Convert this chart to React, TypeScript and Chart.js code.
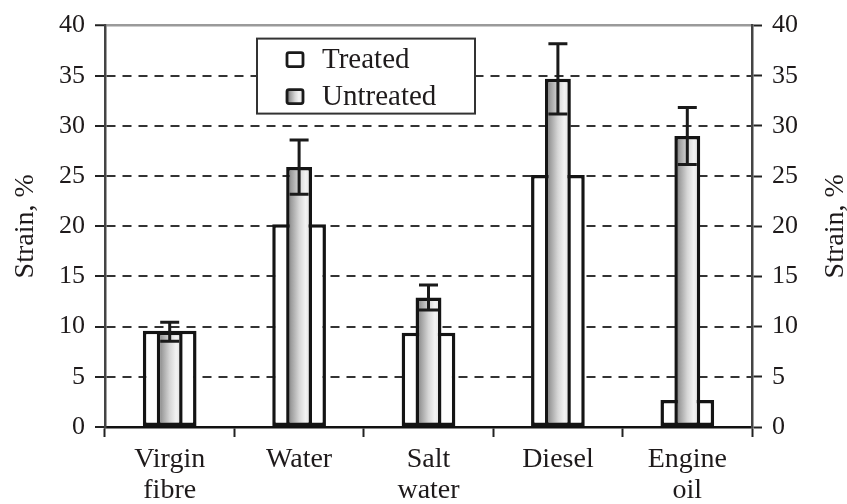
import React, { useEffect, useRef } from "react";
import { Chart, registerables } from "chart.js";

Chart.register(...registerables);

// ---- data ----
const categories: string[][] = [["Virgin", "fibre"], ["Water"], ["Salt", "water"], ["Diesel"], ["Engine", "oil"]];
const seriesLabels = ["Treated", "Untreated"];
const treatedValues = [9.6, 20.2, 9.4, 25.1, 2.7];
const untreatedValues = [9.5, 25.9, 12.9, 34.7, 29.0];
const untreatedErrors = [0.95, 2.7, 1.25, 3.5, 2.85];
const yMin = 0;
const yMax = 40;
const yStep = 5;
const axisTitle = "Strain, %";

// ---- style ----
const FONT = '"Liberation Serif", "Times New Roman", serif';
const TEXT = "#1e1a1b";
const TREATED_PCT = 0.415;
const UNTREATED_PCT = 0.2;

function barGradient(ctx: CanvasRenderingContext2D, x0: number, x1: number) {
  if (!isFinite(x0) || !isFinite(x1) || x1 <= x0) return "#cccccc";
  const g = ctx.createLinearGradient(x0, 0, x1, 0);
  g.addColorStop(0, "#666666");
  g.addColorStop(0.2, "#9e9e9e");
  g.addColorStop(0.5, "#d6d6d6");
  g.addColorStop(0.75, "#f3f3f3");
  g.addColorStop(1, "#dcdcdc");
  return g;
}

const decorPlugin = {
  id: "decor",
  afterDatasetsDraw(chart: any) {
    const { ctx } = chart;
    const y = chart.scales.y;
    const meta = chart.getDatasetMeta(1);
    ctx.save();
    ctx.strokeStyle = "#1a1a1a";
    ctx.lineWidth = 3;
    ctx.lineCap = "butt";
    meta.data.forEach((bar: any, i: number) => {
      const v = untreatedValues[i];
      const e = untreatedErrors[i];
      const x = bar.x;
      const yt = y.getPixelForValue(v + e);
      const yb = y.getPixelForValue(v - e);
      const cap = 9.5;
      ctx.beginPath();
      ctx.moveTo(x, yt);
      ctx.lineTo(x, yb);
      ctx.moveTo(x - cap, yt);
      ctx.lineTo(x + cap, yt);
      ctx.moveTo(x - cap, yb);
      ctx.lineTo(x + cap, yb);
      ctx.stroke();
    });
    ctx.restore();
  },
  afterDraw(chart: any) {
    const { ctx, chartArea } = chart;
    const cy = (chartArea.top + chartArea.bottom) / 2;
    ctx.save();
    // axis titles (both read bottom-to-top)
    ctx.fillStyle = TEXT;
    ctx.font = `28px ${FONT}`;
    ctx.textAlign = "center";
    ctx.textBaseline = "alphabetic";
    [33, chart.width - 4].forEach((bx) => {
      ctx.save();
      ctx.translate(bx, cy);
      ctx.rotate(-Math.PI / 2);
      ctx.fillText(axisTitle, 0, 0);
      ctx.restore();
    });

    // legend box
    const lx = chartArea.left + 152;
    const ly = chartArea.top + 13;
    const lw = 218;
    const lh = 75;
    ctx.fillStyle = "#ffffff";
    ctx.fillRect(lx, ly, lw, lh);
    ctx.strokeStyle = "#333333";
    ctx.lineWidth = 2;
    ctx.strokeRect(lx, ly, lw, lh);

    const rows = [ly + 21, ly + 58];
    seriesLabels.forEach((label, i) => {
      const iy = rows[i];
      const ix = lx + 30;
      const iw = 16;
      const ih = 14;
      ctx.beginPath();
      (ctx as any).roundRect(ix, iy - ih / 2, iw, ih, 2);
      ctx.fillStyle = i === 0 ? "#ffffff" : barGradient(ctx, ix, ix + iw);
      ctx.fill();
      ctx.strokeStyle = "#1a1a1a";
      ctx.lineWidth = 2.8;
      ctx.stroke();
      ctx.fillStyle = TEXT;
      ctx.font = `29px ${FONT}`;
      ctx.textAlign = "left";
      ctx.textBaseline = "alphabetic";
      ctx.fillText(label, lx + 65, iy + 8);
    });
    ctx.restore();
  },
};

export default function App() {
  const canvasRef = useRef<HTMLCanvasElement | null>(null);

  useEffect(() => {
    document.body.style.margin = "0";
    const canvas = canvasRef.current;
    if (!canvas) return;

    const untreatedFill = (c: any) => {
      const chart = c.chart;
      const xs = chart.scales && chart.scales.x;
      if (c.type !== "data" || !xs) return "#cccccc";
      const cx = xs.getPixelForValue(c.dataIndex);
      const w = (xs.width / categories.length) * UNTREATED_PCT;
      return barGradient(chart.ctx, cx - w / 2, cx + w / 2);
    };

    const chart = new Chart(canvas, {
      type: "bar",
      data: {
        labels: categories,
        datasets: [
          {
            label: seriesLabels[0],
            data: treatedValues,
            backgroundColor: "#ffffff",
            borderColor: "#141414",
            borderWidth: 3.5,
            borderSkipped: false,
            barPercentage: TREATED_PCT,
            categoryPercentage: 1,
            order: 2,
          },
          {
            label: seriesLabels[1],
            data: untreatedValues,
            backgroundColor: untreatedFill,
            borderColor: "#141414",
            borderWidth: 3.5,
            borderSkipped: false,
            barPercentage: UNTREATED_PCT,
            categoryPercentage: 1,
            order: 1,
          },
        ],
      },
      options: {
        animation: false,
        responsive: false,
        devicePixelRatio: 1,
        datasets: { bar: { grouped: false } } as any,
        layout: { padding: { top: 24, left: 0, right: 0, bottom: 0 } },
        plugins: {
          legend: { display: false },
          tooltip: { enabled: false },
          title: { display: false },
        },
        scales: {
          x: {
            offset: true,
            grid: {
              offset: true,
              display: true,
              drawOnChartArea: false,
              drawTicks: true,
              tickLength: 10,
              tickColor: "#222222",
              tickWidth: 2,
              color: "#222222",
            },
            border: { display: true, color: "#111111", width: 2.5 },
            ticks: {
              color: TEXT,
              font: { family: FONT, size: 28, lineHeight: 1.1 },
              padding: 7,
              maxRotation: 0,
              minRotation: 0,
              autoSkip: false,
            },
            afterFit: (s: any) => {
              s.height = 77;
            },
          },
          y: {
            position: "left",
            min: yMin,
            max: yMax,
            ticks: {
              stepSize: yStep,
              color: TEXT,
              font: { family: FONT, size: 26 },
              padding: 10,
            },
            grid: {
              color: (c: any) => (c.tick && c.tick.value === yMax ? "#9a9a9a" : "#333333"),
              lineWidth: (c: any) => (c.tick && c.tick.value === yMax ? 2.5 : 2),
              drawTicks: true,
              tickLength: 10,
              tickColor: "#222222",
              tickWidth: 2,
            },
            border: {
              display: true,
              color: "#444444",
              width: 2.5,
              dash: (c: any) =>
                c.tick && (c.tick.value === yMax || c.tick.value === yMin) ? [] : [9, 7],
            } as any,
            afterFit: (s: any) => {
              s.width = 105;
            },
          },
          y2: {
            position: "right",
            min: yMin,
            max: yMax,
            ticks: {
              stepSize: yStep,
              color: TEXT,
              font: { family: FONT, size: 26 },
              padding: 10,
            },
            grid: {
              display: true,
              drawOnChartArea: false,
              drawTicks: true,
              tickLength: 10,
              tickColor: "#222222",
              tickWidth: 2,
            },
            border: { display: true, color: "#444444", width: 2.5 },
            afterFit: (s: any) => {
              s.width = 95;
            },
          },
        },
      },
      plugins: [decorPlugin],
    });

    return () => {
      chart.destroy();
    };
  }, []);

  return (
    <canvas
      ref={canvasRef}
      width={847}
      height={504}
      style={{ display: "block", width: "847px", height: "504px" }}
    />
  );
}
